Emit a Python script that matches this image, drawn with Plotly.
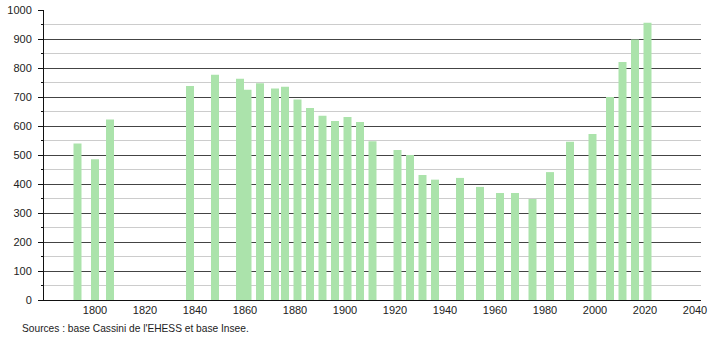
import plotly.graph_objects as go

years = [1793, 1800, 1806, 1838, 1848, 1858, 1861, 1866, 1872, 1876, 1881, 1886,
         1891, 1896, 1901, 1906, 1911, 1921, 1926, 1931, 1936, 1946, 1954, 1962,
         1968, 1975, 1982, 1990, 1999, 2006, 2011, 2016, 2021]
population = [540, 485, 622, 738, 777, 763, 725, 747, 729, 735, 691, 662,
              635, 617, 631, 614, 547, 517, 500, 431, 415, 421, 390, 369,
              369, 348, 441, 546, 572, 700, 821, 898, 956]
x_ticks = [1800, 1820, 1840, 1860, 1880, 1900, 1920, 1940, 1960, 1980, 2000, 2020, 2040]
y_ticks = [0, 100, 200, 300, 400, 500, 600, 700, 800, 900, 1000]
source_text = "Sources : base Cassini de l'EHESS et base Insee."

fig = go.Figure()
fig.add_trace(go.Bar(
    x=years, y=population, width=3.2,
    marker=dict(color="#abe3ab", line=dict(width=0)),
    hoverinfo="x+y",
))

font = dict(family="Liberation Sans, Arial, sans-serif", size=11, color="#222222")

fig.update_layout(
    width=710, height=340,
    margin=dict(l=44, r=9, t=10, b=40),
    paper_bgcolor="white", plot_bgcolor="white",
    showlegend=False,
    font=font,
    xaxis=dict(
        range=[1779.6, 2042.4],
        automargin=False,
        tickvals=x_ticks, ticktext=[str(v) for v in x_ticks],
        showgrid=False, zeroline=False,
        showline=True, linecolor="#111111", linewidth=1,
        ticks="", ticklen=0,
        tickfont=font,
    ),
    yaxis=dict(
        range=[0, 1000],
        automargin=False,
        tickvals=y_ticks,
        showgrid=True, gridcolor="#444444", gridwidth=1,
        zeroline=False,
        showline=True, linecolor="#111111", linewidth=1,
        ticks="outside", ticklen=5, tickcolor="#111111",
        ticklabelstandoff=4,
        tickfont=font,
        minor=dict(dtick=50, tick0=0, showgrid=True, gridcolor="#cccccc",
                   ticks="outside", ticklen=2, tickcolor="#111111"),
    ),
    annotations=[dict(
        text=source_text, xref="paper", yref="paper",
        x=-24 / 657, y=(300 - 328) / 290, xanchor="left", yanchor="middle",
        showarrow=False, font=dict(family="Liberation Sans, Arial, sans-serif", size=10.2, color="#222222"),
    )],
)

fig.write_html("out.html")
